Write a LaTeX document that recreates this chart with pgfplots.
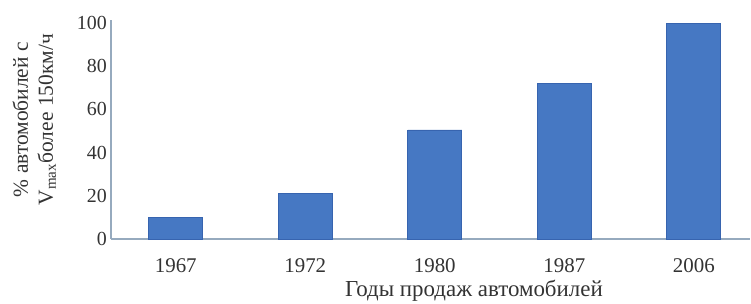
\documentclass[border=0pt]{standalone}
\usepackage{fontspec}
\setmainfont{Liberation Serif}
\usepackage{pgfplots}
\pgfplotsset{compat=1.18}
\definecolor{barblue}{RGB}{70,120,195}
\definecolor{baredge}{RGB}{55,100,175}
\definecolor{axgray}{RGB}{150,170,190}
\begin{document}
\begin{tikzpicture}
\begin{axis}[
  at={(0,0)}, anchor=south west,
  scale only axis, width=639bp, height=219bp,
  xmin=-0.5, xmax=4.434, ymin=0, ymax=101.4,
  axis x line*=bottom, axis y line*=left,
  axis line style={draw=axgray, line width=1.2bp},
  major tick length=0pt,
  xtick={0,1,2,3,4}, xticklabels={1967,1972,1980,1987,2006},
  ytick={0,20,40,60,80,100},
  /pgf/number format/assume math mode=true,
  tick label style={font=\fontsize{20}{24}\selectfont, text=black!80},
  xticklabel style={anchor=north, inner sep=0pt, yshift=-19bp, font=\fontsize{21}{24}\selectfont},
  yticklabel style={anchor=east, inner sep=0pt, xshift=-4bp},
  xlabel={Годы продаж автомобилей},
  xlabel style={at={(axis description cs:0.568,-0.235)}, anchor=center, inner sep=0pt, font=\fontsize{23}{26}\selectfont, text=black!80},
  ylabel={\% автомобилей с\\V\textsubscript{max}более 150км/ч},
  ylabel style={at={(axis description cs:-0.12,0.545)}, anchor=center, rotate=0, inner sep=0pt, align=center, font=\fontsize{21.5}{25}\selectfont, text=black!80},
  ybar, bar width=54bp, bar shift=0pt,
]
\addplot[fill=barblue, draw=baredge, line width=0.8bp] coordinates {(0,10) (1,21) (2,50.5) (3,72) (4,100)};
\end{axis}
\pgfresetboundingbox
\path[use as bounding box] (-111bp,-65bp) rectangle (640bp,239bp);
\end{tikzpicture}
\end{document}
